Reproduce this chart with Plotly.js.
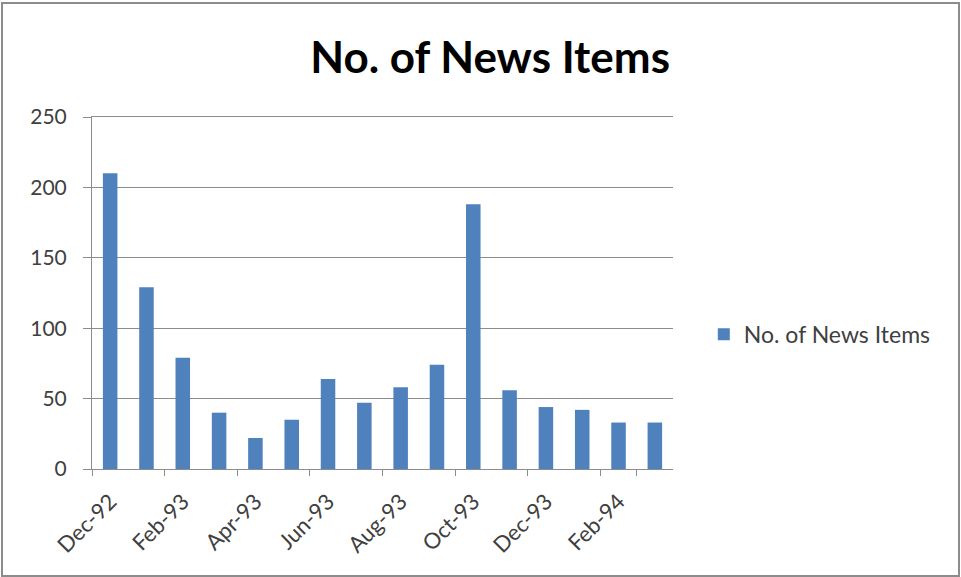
<!DOCTYPE html>
<html>
<head>
<meta charset="utf-8">
<script src="https://cdn.plot.ly/plotly-3.0.1.min.js"></script>
<style>
html,body{margin:0;padding:0;background:#fff;}
#wrap{position:relative;width:961px;height:577px;}
#chart{position:absolute;left:0;top:0;width:961px;height:577px;}
#frame{position:absolute;left:1px;top:2px;width:955px;height:571px;border:2px solid #8c8c8c;pointer-events:none;}
</style>
</head>
<body>
<div id="wrap"><div id="chart"></div><div id="frame"></div></div>
<script>
const months = ["Dec-92","Jan-93","Feb-93","Mar-93","Apr-93","May-93","Jun-93","Jul-93","Aug-93","Sep-93","Oct-93","Nov-93","Dec-93","Jan-94","Feb-94","Mar-94"];
const newsItems = [210,129,79,40,22,35,64,47,58,74,188,56,44,42,33,33];
const yTicks = [0,50,100,150,200,250];
const seriesName = "No. of News Items";
const chartTitle = "No. of News Items";

const FONT = "Lato, 'Open Sans', sans-serif";

const trace = {
  type: "bar",
  x: months,
  y: newsItems,
  name: seriesName,
  marker: {color: "#4F81BD"},
  showlegend: true
};

const layout = {
  width: 961, height: 577,
  margin: {l: 92, r: 288, t: 117, b: 108, pad: 0},
  paper_bgcolor: "#fff", plot_bgcolor: "#fff",
  font: {family: FONT, color: "#404040"},
  title: {text: "<b>" + chartTitle + "</b>", font: {family: FONT, size: 44, color: "#000"}, x: 0.51, xanchor: "center", y: 0.9, yanchor: "middle"},
  bargap: 0.6,
  showlegend: true,
  legend: {x: 1.053, xanchor: "left", y: 0.383, yanchor: "middle", font: {family: FONT, size: 23, color: "#404040"}, bgcolor: "rgba(0,0,0,0)", itemwidth: 30},
  xaxis: {
    type: "category",
    tickmode: "array",
    tickvals: months.filter((m,i)=>i%2===0),
    tickson: "boundaries",
    ticks: "outside", ticklen: 6, tickcolor: "#8c8c8c", tickwidth: 1,
    tickangle: -45,
    tickfont: {family: FONT, size: 22, color: "#404040"},
    ticklabelstandoff: 10,
    showline: true, linecolor: "#8c8c8c", linewidth: 1, mirror: true,
    showgrid: false,
    range: [-0.5, 15.5]
  },
  yaxis: {
    range: [0, 250],
    tickvals: yTicks,
    ticks: "outside", ticklen: 8, tickcolor: "#8c8c8c", tickwidth: 1,
    tickfont: {family: FONT, size: 21, color: "#404040"},
    showline: true, linecolor: "#8c8c8c", linewidth: 1,
    gridcolor: "#8c8c8c", gridwidth: 1,
    zeroline: false,
    ticklabelstandoff: 12
  }
};

Plotly.newPlot("chart", [trace], layout, {displayModeBar: false, staticPlot: true});
</script>
</body>
</html>
